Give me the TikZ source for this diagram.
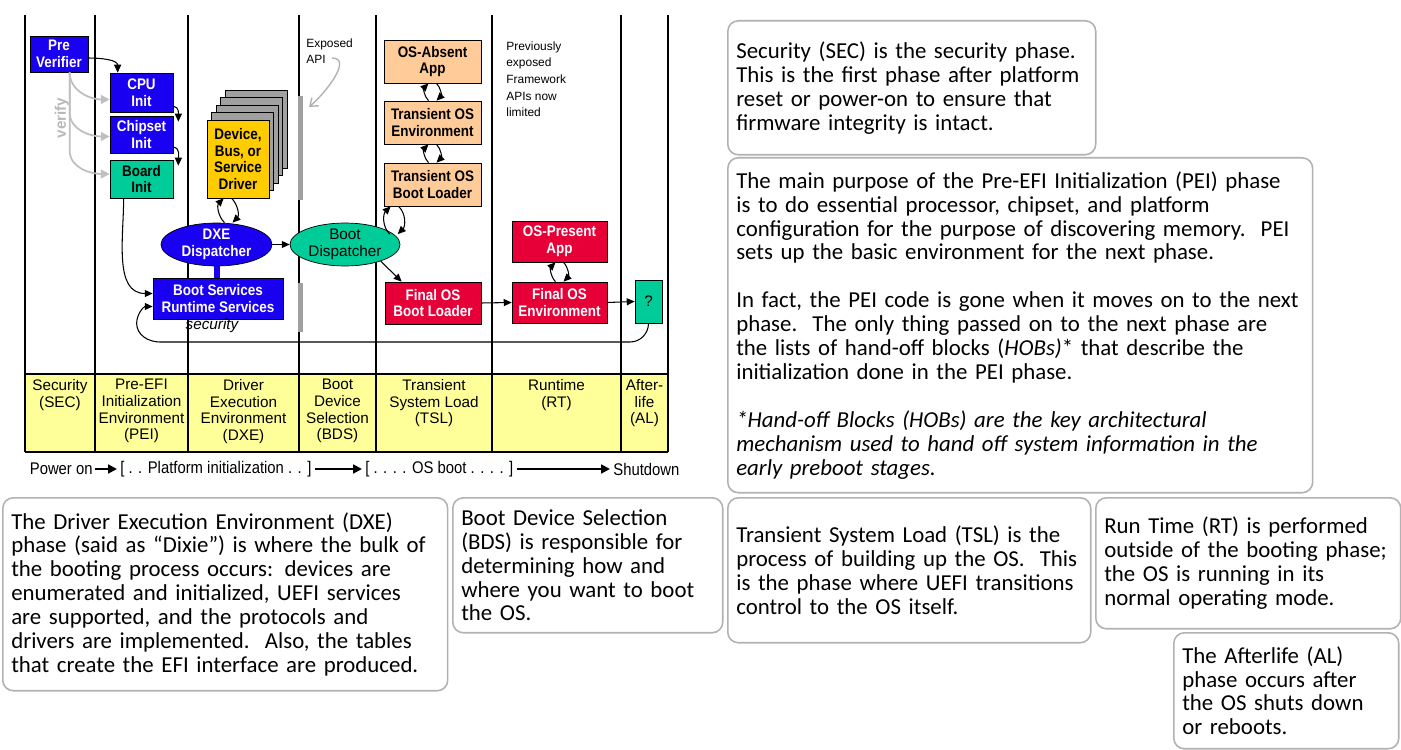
\documentclass[tikz,border=0pt]{standalone}
\usepackage{fontspec}
\setmainfont{Carlito}
\newfontfamily\diafont{Liberation Sans}
\newfontfamily\boxfont[FakeStretch=0.88]{Liberation Sans}
\usepackage{tikz}
\usetikzlibrary{shapes.geometric,arrows.meta,positioning,calc}

\definecolor{efiblue}{RGB}{26,0,240}
\definecolor{efired}{RGB}{230,0,55}
\definecolor{efigreen}{RGB}{0,204,153}
\definecolor{efiorange}{RGB}{255,204,153}
\definecolor{efigold}{RGB}{255,204,0}
\definecolor{efiyellow}{RGB}{255,255,153}
\definecolor{efigray}{RGB}{160,160,160}

\pgfdeclareverticalshading{notefade}{100bp}{color(0bp)=(white); color(76bp)=(white); color(100bp)=(black!20)}

\tikzset{
 blk/.style={draw,rectangle,inner sep=1pt,align=center,font=\boxfont\bfseries\fontsize{8.7}{9.5}\selectfont},
 bluebox/.style={blk,fill=efiblue,text=white},
 redbox/.style={blk,fill=efired,text=white},
 greenbox/.style={blk,fill=efigreen},
 orangebox/.style={blk,fill=efiorange},
 goldbox/.style={blk,fill=efigold},
 stackbox/.style={draw,fill=efigray,minimum width=1.24cm,minimum height=1.56cm},
 disp/.style={ellipse,draw,inner sep=0pt,align=center,minimum width=2.2cm,minimum height=0.82cm},
 phaselbl/.style={anchor=north,align=center,inner sep=0pt,font=\diafont\fontsize{8.7}{9.5}\selectfont},
 notetxt/.style={anchor=north west,align=left,inner sep=0pt,font=\diafont\fontsize{6.8}{9.5}\selectfont},
 flow/.style={inner sep=0pt,anchor=west,font=\boxfont\fontsize{9.6}{10}\selectfont},
 arr/.style={-{Triangle[length=4.5pt,width=4pt]},line width=0.6pt},
 varr/.style={-{Triangle[length=5pt,width=5pt]},draw=black!25,line width=1pt},
 garr/.style={-{Straight Barb[length=4pt,width=6pt]},draw=black!30,line width=0.8pt},
 flarr/.style={-{Triangle[length=5pt,width=5pt]},line width=1.1pt},
 infobox/.style={draw=black!30,line width=0.9pt,rounded corners=6pt,shade,shading=notefade,anchor=north west,align=left,inner xsep=0.17cm,font=\fontsize{13}{13.6}\selectfont},
}

% two-way arcs between an upper and a lower point
\newcommand{\cyc}[2]{%
 \path #1 coordinate (cycu) #2 coordinate (cycl);
 \draw[arr] ($(cycl)+(-4,0)$) to[out=135,in=-135] ($(cycu)+(-4,0)$);
 \draw[arr] ($(cycu)+(4,0)$) to[out=-45,in=45] ($(cycl)+(4,0)$);}

\begin{document}
\begin{tikzpicture}[x=0.02cm,y=0.02cm]
\useasboundingbox (0,0) rectangle (1401,-750);
% phase columns and band
\fill[efiyellow] (25,-374) rectangle (668,-452);
\foreach \x in {25,95,188,299,376,492,621,668}
 \draw[line width=0.6pt] (\x,-15) -- (\x,-452);
\draw[line width=0.6pt] (25,-374) -- (668,-374) (25,-452) -- (668,-452);
\foreach \x/\n/\lbl in {60/phsec/{Security\\(SEC)},141.5/phpei/{Pre-EFI\\Initialization\\Environment\\(PEI)},
 243.5/phdxe/{Driver\\Execution\\Environment\\(DXE)},337.5/phbds/{Boot\\Device\\Selection\\(BDS)},
 434/phtsl/{Transient\\System Load\\(TSL)},556.5/phrt/{Runtime\\(RT)},644.5/phal/{After-\\life\\(AL)}}
 \node[phaselbl] (\n) at (\x,-379) {\lbl};
% SEC / PEI
\node[bluebox,minimum width=1.16cm,minimum height=0.72cm] (prever) at (59,-54) {Pre\\Verifier};
\node[bluebox,minimum width=1.26cm,minimum height=0.78cm] (cpu) at (141.5,-92.5) {CPU\\Init};
\node[bluebox,minimum width=1.26cm,minimum height=0.74cm] (chipset) at (141.5,-134.5) {Chipset\\Init};
\node[greenbox,minimum width=1.26cm,minimum height=0.76cm] (board) at (141.5,-179) {Board\\Init};
\coordinate (vtop) at ($(prever.south west)+(40,0)$);
\draw[varr] (vtop) to[out=-90,in=180] ($(cpu.west)+(0,-7)$);
\draw[varr] (vtop) -- ++(0,-40) to[out=-90,in=180] ($(chipset.west)+(0,-2)$);
\draw[varr] (vtop) -- ++(0,-78) to[out=-90,in=180] ($(board.west)+(0,5)$);
\node[rotate=90,text=black!28,font=\diafont\bfseries\fontsize{8.7}{9.5}\selectfont] (verify) at (62,-118) {verify};
\draw[arr] ($(prever.east)+(0,-4)$) to[out=0,in=90] ($(cpu.north west)+(8,0)$);
\draw[arr] ($(cpu.south east)+(0,6)$) to[out=0,in=90] ($(chipset.north east)+(5,-6)$);
\draw[arr] ($(chipset.south east)+(0,6)$) to[out=0,in=90] ($(board.north east)+(5,-6)$);
% DXE
\foreach \k in {4,3,2,1}
 \node[stackbox] (drv\k) at ({238+4.5*\k},{-159+7.5*\k}) {};
\node[goldbox,minimum width=1.24cm,minimum height=1.56cm] (driver) at (238,-159) {Device,\\Bus, or\\Service\\Driver};
\node[disp,fill=efiblue,text=white,minimum width=2.22cm,font=\boxfont\bfseries\fontsize{8.7}{9.5}\selectfont] (dxe) at (216.5,-244.5) {DXE\\Dispatcher};
\node[bluebox,minimum width=2.6cm,minimum height=0.82cm] (bootsvc) at (218,-298.5) {Boot Services\\Runtime Services};
\draw[efiblue,line width=0.12cm] (dxe.south) -- (dxe.south |- bootsvc.north);
\node[font=\diafont\itshape\fontsize{8.7}{9.5}\selectfont,inner sep=0pt] (seclbl) at (212,-326) {security};
\draw[arr] ($(board.south west)+(14,0)$) to[out=-90,in=180] ($(bootsvc.west)+(0,5)$);
\cyc{($(driver.south west)+(21,0)$)}{($(dxe.north)+(12,0)$)}
% BDS
\node[disp,fill=efigreen,font=\diafont\fontsize{8.7}{9.5}\selectfont] (bootdisp) at (345,-244.5) {Boot\\Dispatcher};
\draw[arr] (dxe.east) -- (bootdisp.west);
\fill[efigray] (297.5,-96) rectangle (302.5,-200);
\fill[efigray] (297.5,-283) rectangle (302.5,-332);
\node[notetxt] (expapi) at (306,-38) {Exposed\\API};
\coordinate (apitip) at (309,-107);
\draw[garr] ($(expapi.south west)+(26,6)$) to[out=0,in=40] (apitip);
% TSL
\node[orangebox,minimum width=1.94cm,minimum height=0.86cm] (osabsent) at (432.5,-61.5) {OS-Absent\\App};
\node[orangebox,minimum width=1.94cm,minimum height=0.86cm] (tosenv) at (432.5,-122.5) {Transient OS\\Environment};
\node[orangebox,minimum width=1.94cm,minimum height=0.86cm] (tosbl) at (432.5,-184.5) {Transient OS\\Boot Loader};
\cyc{(osabsent.south)}{(tosenv.north)}
\cyc{(tosenv.south)}{(tosbl.north)}
\cyc{($(tosbl.south west)+(11,0)$)}{(bootdisp.12)}
\node[redbox,minimum width=1.92cm,minimum height=0.84cm] (finalbl) at (433,-303) {Final OS\\Boot Loader};
\draw[arr] (bootdisp.-25) -- ($(finalbl.north west)+(17,0)$);
% RT / AL
\node[notetxt] (prevapi) at (506,-41) {Previously\\exposed\\Framework\\APIs now\\limited};
\node[redbox,minimum width=1.9cm,minimum height=0.82cm] (osapp) at (559.5,-241.5) {OS-Present\\App};
\node[redbox,minimum width=1.9cm,minimum height=0.82cm] (finalenv) at (559.5,-302.5) {Final OS\\Environment};
\cyc{(osapp.south)}{(finalenv.north)}
\node[greenbox,minimum width=0.54cm,minimum height=0.86cm,font=\diafont\fontsize{8.7}{9.5}\selectfont] (afterq) at (648.5,-301.5) {?};
\draw[arr] (finalbl.east) -- (finalenv.west);
\draw[arr] (finalenv.east) -- (afterq.west);
\coordinate (secR) at (630,-342);
\coordinate (secL) at (160,-342);
\draw[arr] (afterq.south) to[out=-90,in=0] (secR) -- (secL) to[out=180,in=-90] ($(bootsvc.south west)+(-16,-4)$) to[out=90,in=180] ($(bootsvc.west)+(0,-8)$);
% boot flow
\node[flow] (pon) at (29.5,-469) {Power on};
\node[flow] (pinit) at (120,-469) {[ . . Platform initialization . . ]};
\node[flow] (osboot) at (365,-469) {[ . . . . OS boot . . . . ]};
\node[flow] (shut) at (613,-469) {Shutdown};
\draw[flarr] ($(pon.east)+(2,0)$) -- ($(pinit.west)+(-3,0)$);
\draw[flarr] ($(pinit.east)+(3,0)$) -- ($(osboot.west)+(-3,0)$);
\draw[flarr] ($(osboot.east)+(3,0)$) -- ($(shut.west)+(-3,0)$);
% notes
\node[infobox,minimum width=7.36cm,minimum height=2.68cm,text width=7.02cm] (secnote) at (727,-20)
 {Security (SEC) is the security phase.\\This is the first phase after platform\\reset or power-on to ensure that\\firmware integrity is intact.};
\node[infobox,minimum width=11.7cm,minimum height=6.7cm,text width=11.36cm] (peinote) at (727,-157)
 {The main purpose of the Pre-EFI Initialization (PEI) phase\\is to do essential processor, chipset, and platform\\configuration for the purpose of discovering memory.\ \ PEI\\sets up the basic environment for the next phase.\\[13.6pt]In fact, the PEI code is gone when it moves on to the next\\phase.\ \ The only thing passed on to the next phase are\\the lists of hand-off blocks (\textit{HOBs)}* that describe the\\initialization done in the PEI phase.\\[13.6pt]\textit{*Hand-off Blocks (HOBs) are the key architectural}\\\textit{mechanism used to hand off system information in the}\\\textit{early preboot stages.}};
\node[infobox,minimum width=8.9cm,minimum height=3.86cm,text width=8.56cm] (dxenote) at (2,-497)
 {The Driver Execution Environment (DXE)\\phase (said as “Dixie”) is where the bulk of\\the booting process occurs: devices are\\enumerated and initialized, UEFI services\\are supported, and the protocols and\\drivers are implemented.\ \ Also, the tables\\that create the EFI interface are produced.};
\node[infobox,minimum width=5.4cm,minimum height=2.7cm,text width=5.06cm] (bdsnote) at (452,-497)
 {Boot Device Selection\\(BDS) is responsible for\\determining how and\\where you want to boot\\the OS.};
\node[infobox,minimum width=7.26cm,minimum height=2.9cm,text width=6.92cm] (tslnote) at (727,-497)
 {Transient System Load (TSL) is the\\process of building up the OS.\ \ This\\is the phase where UEFI transitions\\control to the OS itself.};
\node[infobox,minimum width=6.1cm,minimum height=2.62cm,text width=5.76cm] (rtnote) at (1095,-497)
 {Run Time (RT) is performed\\outside of the booting phase;\\the OS is running in its\\normal operating mode.};
\node[infobox,minimum width=4.5cm,minimum height=2.32cm,text width=4.16cm] (alnote) at (1173,-632)
 {The Afterlife (AL)\\phase occurs after\\the OS shuts down\\or reboots.};
\end{tikzpicture}
\end{document}
